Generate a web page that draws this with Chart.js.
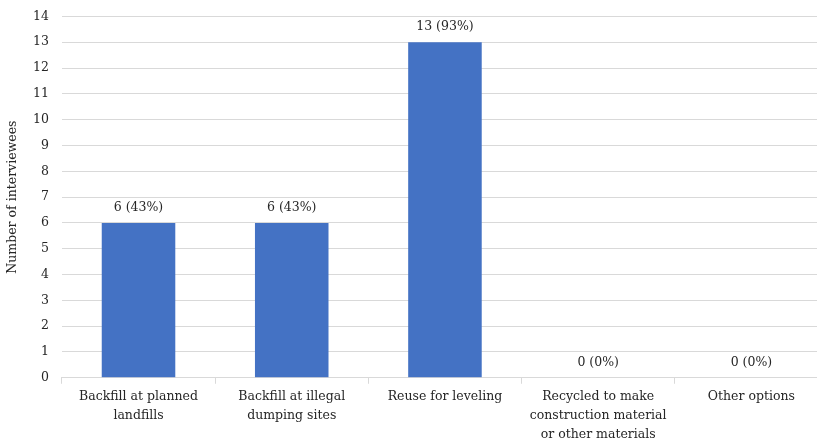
<!DOCTYPE html>
<html>
<head>
<meta charset="utf-8">
<script src="https://cdn.jsdelivr.net/npm/chart.js@4"></script>
<style>
  html, body { margin: 0; padding: 0; background: #fff; overflow: hidden; }
  .wrap { width: 828px; height: 448px; }
</style>
</head>
<body>
<div class="wrap"><canvas id="disposalChart" width="828" height="448"></canvas></div>
<script>
const categories = [
  ["Backfill at planned", "landfills"],
  ["Backfill at illegal", "dumping sites"],
  ["Reuse for leveling"],
  ["Recycled to make", "construction material", "or other materials"],
  ["Other options"],
];
const interviewees = [6, 6, 13, 0, 0];
const shares = ["43%", "43%", "93%", "0%", "0%"];

const FONT = "'DejaVu Serif', serif";
const SIZE = 12.5;

// writes "n (p%)" above every bar
const valueLabels = {
  id: "valueLabels",
  afterDatasetsDraw(chart) {
    const ctx = chart.ctx;
    const meta = chart.getDatasetMeta(0);
    ctx.save();
    ctx.font = SIZE + "px " + FONT;
    ctx.fillStyle = "#262626";
    ctx.textAlign = "center";
    ctx.textBaseline = "middle";
    meta.data.forEach((bar, i) => {
      ctx.fillText(interviewees[i] + " (" + shares[i] + ")", bar.x, bar.y - 15);
    });
    ctx.restore();
  },
};

const ctx = document.getElementById("disposalChart").getContext("2d");
new Chart(ctx, {
  type: "bar",
  data: {
    labels: categories,
    datasets: [
      {
        data: interviewees,
        backgroundColor: "#4472C4",
        borderWidth: 0,
        barPercentage: 0.48,
        categoryPercentage: 1,
      },
    ],
  },
  options: {
    responsive: false,
    animation: false,
    layout: { padding: { top: 0, left: 5, right: 0, bottom: 0 } },
    plugins: {
      legend: { display: false },
      tooltip: { enabled: false },
    },
    scales: {
      x: {
        grid: {
          display: true,
          drawOnChartArea: false,
          drawTicks: true,
          tickLength: 6,
          color: "#d9d9d9",
          offset: true,
        },
        border: { color: "#d9d9d9" },
        ticks: {
          color: "#262626",
          font: { family: FONT, size: SIZE, lineHeight: 1.5 },
          maxRotation: 0,
          autoSkip: false,
          padding: 4,
        },
      },
      y: {
        min: 0,
        max: 14,
        ticks: {
          stepSize: 1,
          color: "#262626",
          font: { family: FONT, size: SIZE, lineHeight: 0.55 },
          padding: 13,
        },
        grid: { color: "#d9d9d9", drawTicks: false },
        border: { display: false },
        title: {
          display: true,
          text: "Number of interviewees",
          color: "#262626",
          font: { family: FONT, size: SIZE },
          padding: { top: 0, bottom: 0 },
        },
      },
    },
  },
  plugins: [valueLabels],
});
</script>
</body>
</html>
